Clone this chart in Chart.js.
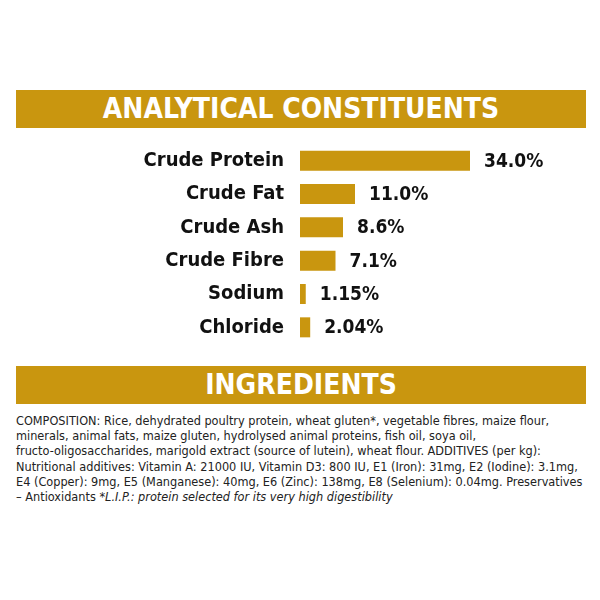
<html><head><meta charset="UTF-8">
<title>Analytical constituents</title>
<style>
    body, html { margin: 0; padding: 0; background: #fff; width: 600px; height: 600px; overflow: hidden; }
    .band { position: absolute; left: 16px; width: 570px; height: 38px; background: #c9960f; color: #fff;
        font-family: 'DejaVu Sans Condensed', 'Liberation Sans Narrow', sans-serif; font-weight: bold;
        font-size: 28px; text-align: center; line-height: 38px; }
    #c { position: absolute; left: 0; top: 124px; }
    .txt { position: absolute; left: 16px; top: 413px; font-family: 'DejaVu Sans Condensed', sans-serif;
        font-size: 12.6px; line-height: 15.2px; color: #222; white-space: nowrap; }
</style>
<script src="https://cdn.jsdelivr.net/npm/chart.js"></script>
</head>
<body>
<div class="band" style="top:90px">ANALYTICAL CONSTITUENTS</div>
<canvas id="c" width="600" height="240"></canvas>
<div class="band" style="top:366px">INGREDIENTS</div>
<div class="txt">COMPOSITION: Rice, dehydrated poultry protein, wheat gluten*, vegetable fibres, maize flour,<br>minerals, animal fats, maize gluten, hydrolysed animal proteins, fish oil, soya oil,<br>fructo-oligosaccharides, marigold extract (source of lutein), wheat flour. ADDITIVES (per kg):<br>Nutritional additives: Vitamin A: 21000 IU, Vitamin D3: 800 IU, E1 (Iron): 31mg, E2 (Iodine): 3.1mg,<br>E4 (Copper): 9mg, E5 (Manganese): 40mg, E6 (Zinc): 138mg, E8 (Selenium): 0.04mg. Preservatives<br>– Antioxidants <i>*L.I.P.: protein selected for its very high digestibility</i></div>
<script>
const categories = ['Crude Protein', 'Crude Fat', 'Crude Ash', 'Crude Fibre', 'Sodium', 'Chloride'];
const values = [34.0, 11.0, 8.6, 7.1, 1.15, 2.04];
const valueLabels = ['34.0%', '11.0%', '8.6%', '7.1%', '1.15%', '2.04%'];

const font = "'DejaVu Sans Condensed', sans-serif";

// draw the percentage next to each bar
const valueText = {
    id: 'valueText',
    afterDatasetsDraw(chart) {
        const ctx = chart.ctx;
        ctx.save();
        ctx.font = 'bold 19px ' + font;
        ctx.fillStyle = '#111';
        ctx.textBaseline = 'middle';
        chart.getDatasetMeta(0).data.forEach((bar, i) => {
            ctx.fillText(valueLabels[i], bar.x + 14, bar.y + 1);
        });
        ctx.restore();
    }
};

new Chart(document.getElementById('c'), {
    type: 'bar',
    data: {
        labels: categories,
        datasets: [{ data: values, backgroundColor: '#c9960f', barPercentage: 0.6, categoryPercentage: 1 }]
    },
    options: {
        indexAxis: 'y',
        responsive: false,
        animation: false,
        layout: { padding: 0 },
        plugins: { legend: { display: false }, tooltip: { enabled: false } },
        scales: {
            x: { display: false, min: 0, max: 60 },
            y: {
                afterFit(s) { s.width = 300; },
                grid: { display: false },
                border: { display: false },
                ticks: { color: '#111', padding: 8, font: { family: font, size: 20, weight: 'bold' } }
            }
        }
    },
    plugins: [valueText]
});
</script>
</body>
</html>
